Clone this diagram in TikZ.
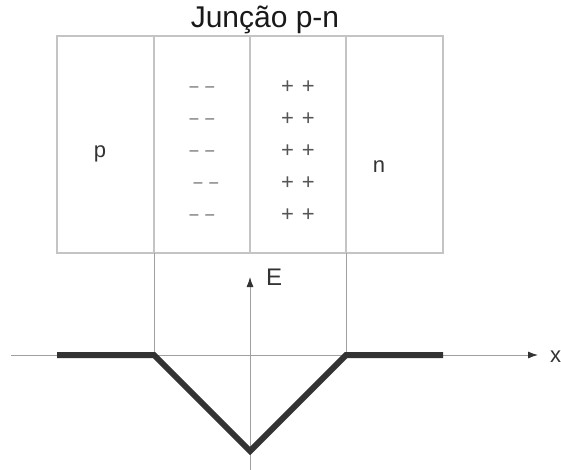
\documentclass[tikz,border=0pt]{standalone}
\usepackage{fontspec}
\setmainfont{Liberation Sans}
\usetikzlibrary{arrows.meta}
\definecolor{boxgray}{HTML}{C4C4C4}
\definecolor{axgray}{HTML}{A0A0A0}
\definecolor{thick}{HTML}{333333}
\definecolor{sign}{HTML}{555555}
\begin{document}
\begin{tikzpicture}[x=1pt,y=-1pt,
  boxline/.style={draw=boxgray,line width=1.8pt},
  thinline/.style={draw=axgray,line width=0.9pt},
  axisline/.style={draw=axgray,line width=0.9pt,-{Latex[length=10pt,width=7pt,color=thick]}},
  field/.style={draw=thick,line width=6pt,line join=miter},
  lbl/.style={inner sep=0pt,text=thick,font=\fontsize{22}{26}\selectfont},
  minus/.style={inner sep=0pt,text=sign,font=\fontsize{16}{18}\selectfont},
  plus/.style={inner sep=0pt,text=sign,font=\fontsize{22}{24}\selectfont}]
\useasboundingbox (0,0) rectangle (561,470);
% title
\node[anchor=base,inner sep=0pt,text=black!90,font=\fontsize{30}{34}\selectfont] (title) at (265,28) {Junção p-n};
% box
\coordinate (tl) at (57,36);
\coordinate (br) at (443,253);
\draw[boxline] (tl) rectangle (br);
\coordinate (d1t) at (154,36); \coordinate (d1b) at (154,253);
\coordinate (d2t) at (250,36); \coordinate (d2b) at (250,253);
\coordinate (d3t) at (346,36); \coordinate (d3b) at (346,253);
\draw[boxline] (d1t) -- (d1b);
\draw[boxline] (d2t) -- (d2b);
\draw[boxline] (d3t) -- (d3b);
% region labels
\node[lbl,anchor=base] (p) at (100,158) {p};
\node[lbl,anchor=base] (n) at (379,173) {n};
% charges
\node[minus] (m1) at (202,89) {–\hspace{7pt}–};
\node[minus] (m2) at (202,121) {–\hspace{7pt}–};
\node[minus] (m3) at (202,153) {–\hspace{7pt}–};
\node[minus] (m4) at (206,185) {–\hspace{7pt}–};
\node[minus] (m5) at (202,217) {–\hspace{7pt}–};
\node[plus] (p1) at (298,87) {+\hspace{8pt}+};
\node[plus] (p2) at (298,119) {+\hspace{8pt}+};
\node[plus] (p3) at (298,151) {+\hspace{8pt}+};
\node[plus] (p4) at (298,183) {+\hspace{8pt}+};
\node[plus] (p5) at (298,215) {+\hspace{8pt}+};
% axes
\coordinate (l1) at (154,355);
\coordinate (l2) at (346,355);
\draw[thinline] (d1b) -- (l1);
\draw[thinline] (d3b) -- (l2);
\coordinate (xs) at (11,355);
\coordinate (xe) at (538,355);
\draw[axisline] (xs) -- (xe);
\coordinate (ys) at (250,472);
\coordinate (ye) at (250,277);
\draw[axisline] (ys) -- (ye);
\node[lbl,anchor=base west,font=\fontsize{24}{28}\selectfont] (E) at (266,285) {E};
\node[lbl,anchor=base west] (x) at (550,362) {x};
% field profile
\coordinate (f0) at (57,355);
\coordinate (fmin) at (250,451);
\coordinate (f3) at (443,355);
\draw[field] (f0) -- (l1) -- (fmin) -- (l2) -- (f3);
\end{tikzpicture}
\end{document}
